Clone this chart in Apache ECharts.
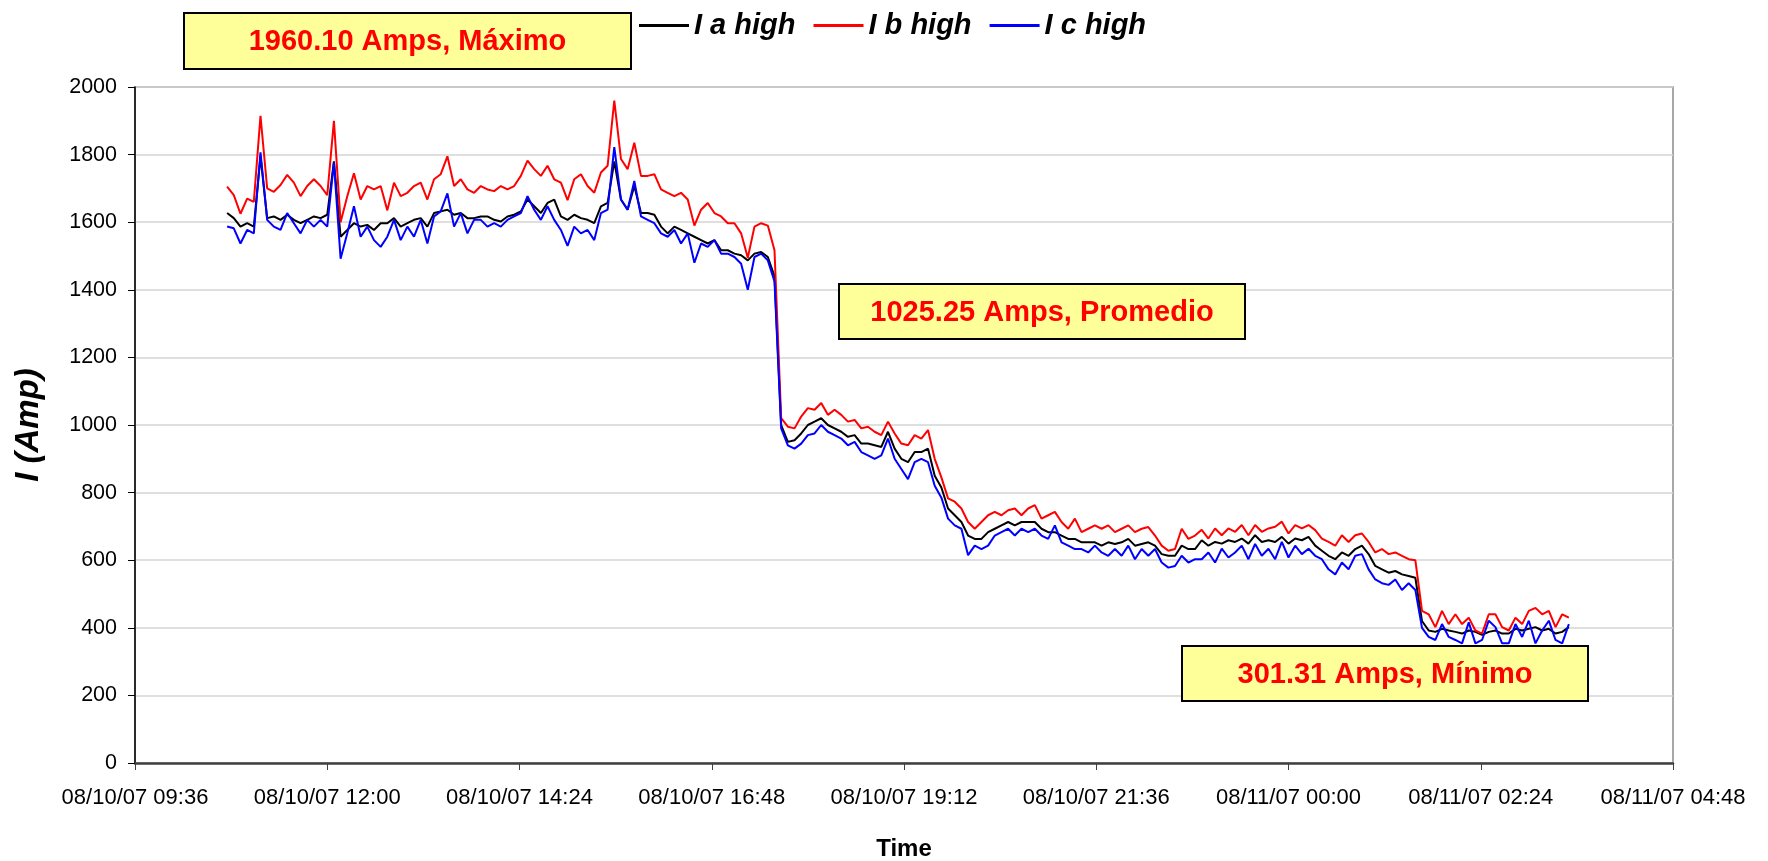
<!DOCTYPE html>
<html>
<head>
<meta charset="utf-8">
<script src="https://cdn.jsdelivr.net/npm/echarts@6/dist/echarts.min.js"></script>
<style>
html,body{margin:0;padding:0;background:#fff;}
#chart{width:1768px;height:861px;}
</style>
</head>
<body>
<div id="chart"></div>
<script>
// ---- data ----
const seriesNames = ['I a high', 'I b high', 'I c high'];
const sampleStartMinute = 645;   // 08/10/07 10:45, minutes from 08/10/07 00:00
const sampleStepMinutes = 5;
const xTickStartMinute = 576;     // 08/10/07 09:36
const xTickEndMinute = 1728;      // 08/11/07 04:48
const xTickIntervalMinutes = 144;
const yTicks = [0, 200, 400, 600, 800, 1000, 1200, 1400, 1600, 1800, 2000];

const iaHigh = [
1627,1612,1587,1597,1587,1795,1612,1617,1607,1622,
1607,1597,1607,1617,1612,1622,1780,1557,1577,1597,
1587,1592,1577,1597,1597,1612,1587,1597,1607,1612,
1587,1627,1632,1637,1622,1627,1612,1612,1617,1617,
1607,1602,1617,1622,1632,1667,1647,1627,1657,1667,
1617,1607,1622,1612,1607,1597,1647,1657,1780,1667,
1637,1707,1627,1627,1622,1587,1567,1587,1577,1567,
1557,1547,1537,1547,1517,1517,1507,1502,1487,1507,
1512,1497,1440,1000,950,955,975,1000,1010,1020,
1000,990,980,965,970,945,945,940,935,980,
930,900,890,920,920,930,850,815,753,733,
713,673,663,663,683,693,703,713,703,713,
713,713,693,683,683,673,663,663,653,653,
653,643,653,648,653,663,643,648,653,643,
618,613,613,643,633,633,659,643,654,649,
659,654,664,649,674,654,659,654,669,649,
664,659,669,643,628,613,603,623,613,633,
643,618,583,573,563,568,558,553,548,420,
392,388,397,392,388,383,392,388,379,388,
392,383,383,397,392,397,402,392,397,383,
388,402
];

const ibHigh = [
1705,1680,1625,1670,1660,1915,1700,1690,1710,1740,
1717,1677,1707,1727,1707,1680,1900,1600,1677,1745,
1667,1707,1697,1707,1635,1717,1677,1687,1707,1717,
1667,1727,1742,1795,1707,1727,1697,1687,1707,1697,
1692,1707,1697,1707,1737,1782,1757,1737,1767,1727,
1717,1665,1727,1742,1707,1687,1747,1767,1960,1787,
1757,1835,1737,1737,1742,1697,1687,1677,1687,1667,
1590,1637,1657,1627,1617,1597,1597,1567,1495,1587,
1597,1590,1517,1020,995,990,1025,1050,1045,1065,
1030,1045,1030,1010,1015,990,995,980,970,1010,
975,945,940,970,960,985,900,845,783,773,
753,713,693,713,733,743,733,748,753,733,
753,763,723,733,743,713,693,723,683,693,
703,693,703,683,693,703,683,693,698,673,
643,628,633,693,663,673,690,664,694,674,
694,684,704,674,704,684,694,699,714,679,
704,694,704,689,664,654,643,674,654,674,
679,654,623,633,618,623,613,603,600,450,
440,402,450,411,440,411,430,392,383,440,
440,402,392,430,411,450,459,440,450,402,
440,430
];

const icHigh = [
1587,1582,1537,1577,1567,1807,1607,1587,1577,1627,
1597,1567,1607,1587,1607,1587,1777,1492,1567,1647,
1557,1587,1547,1527,1557,1607,1547,1587,1557,1607,
1537,1617,1632,1685,1587,1627,1567,1607,1607,1587,
1597,1587,1607,1617,1627,1677,1637,1607,1647,1607,
1577,1530,1587,1567,1577,1547,1627,1637,1822,1667,
1637,1722,1617,1607,1597,1567,1557,1577,1537,1567,
1480,1537,1527,1547,1507,1507,1497,1477,1400,1497,
1507,1487,1425,990,940,930,945,970,975,1000,
980,970,960,940,950,920,910,900,910,960,
900,870,840,890,900,890,820,785,723,703,
693,615,643,633,643,673,683,693,673,693,
683,693,673,663,703,653,643,633,633,623,
643,623,613,633,613,643,603,633,613,633,
593,578,583,613,593,603,603,623,593,634,
608,623,643,603,648,613,634,603,654,608,
643,618,634,613,603,573,558,593,573,613,
618,573,543,532,527,543,512,532,512,400,
373,364,411,373,364,354,416,354,364,421,
402,354,354,411,373,421,354,392,421,364,
354,411
];

const annotations = [
  { text: '1960.10 Amps, Máximo' },
  { text: '1025.25 Amps, Promedio' },
  { text: '301.31 Amps, Mínimo' }
];

// ---- build ----
function pad(n) { return (n < 10 ? '0' : '') + n; }
function fmtMinute(m) {
  const day = 10 + Math.floor(m / 1440);
  const r = m % 1440;
  return '08/' + pad(day) + '/07 ' + pad(Math.floor(r / 60)) + ':' + pad(r % 60);
}
function toPairs(arr) {
  return arr.map((v, i) => [sampleStartMinute + i * sampleStepMinutes, v]);
}

const FONT = "'Liberation Sans', Arial, sans-serif";
const chart = echarts.init(document.getElementById('chart'), null, { renderer: 'canvas' });

const boxLayout = [
  { x: 184, y: 13, w: 447, h: 56 },
  { x: 839, y: 284, w: 406, h: 55 },
  { x: 1182, y: 646, w: 406, h: 55 }
];

const graphics = annotations.map((a, k) => ({
  type: 'group',
  z: 100,
  children: [
    { type: 'rect', shape: { x: boxLayout[k].x, y: boxLayout[k].y, width: boxLayout[k].w, height: boxLayout[k].h },
      style: { fill: '#FFFF99', stroke: '#000', lineWidth: 2 }, z: 100 },
    { type: 'text', x: boxLayout[k].x + boxLayout[k].w / 2, y: boxLayout[k].y + boxLayout[k].h / 2 + 1, z: 101,
      style: { text: a.text, fill: '#FF0000', font: 'bold 29px ' + FONT, textAlign: 'center', textVerticalAlign: 'middle' } }
  ]
}));

const colors = ['#000000', '#FF0000', '#0000FF'];
const dataSets = [iaHigh, ibHigh, icHigh];

chart.setOption({
  animation: false,
  backgroundColor: '#ffffff',
  grid: { left: 135, right: 95, top: 87, bottom: 98, show: true, borderColor: '#8c8c8c', borderWidth: 1.5, backgroundColor: 'transparent', containLabel: false, outerBoundsMode: 'none' },
  legend: {
    data: seriesNames,
    left: 634, top: 6,
    icon: 'rect', itemWidth: 50, itemHeight: 3, itemGap: 18,
    textStyle: { fontSize: 29, fontWeight: 'bold', fontStyle: 'italic', color: '#000', fontFamily: FONT }
  },
  xAxis: {
    type: 'value',
    min: xTickStartMinute, max: xTickEndMinute, interval: xTickIntervalMinutes,
    name: 'Time', nameLocation: 'middle', nameGap: 74,
    nameTextStyle: { fontSize: 24, fontWeight: 'bold', color: '#000', fontFamily: FONT },
    axisLine: { show: true, lineStyle: { color: '#404040', width: 2.5 } },
    axisTick: { show: true, length: 7, lineStyle: { color: '#404040', width: 1 } },
    axisLabel: { formatter: fmtMinute, fontSize: 22, color: '#000', margin: 24, fontFamily: FONT, showMaxLabel: true, showMinLabel: true },
    splitLine: { show: false }
  },
  yAxis: {
    type: 'value',
    min: yTicks[0], max: yTicks[yTicks.length - 1], interval: 200,
    name: 'I (Amp)', nameLocation: 'middle', nameGap: 90, nameRotate: 90,
    nameTextStyle: { fontSize: 33, fontWeight: 'bold', fontStyle: 'italic', color: '#000', fontFamily: FONT },
    axisLine: { show: true, lineStyle: { color: '#000', width: 1.5 } },
    axisTick: { show: true, length: 7, lineStyle: { color: '#000', width: 1 } },
    axisLabel: { fontSize: 21.5, color: '#000', margin: 18, fontFamily: FONT, formatter: v => String(v) },
    splitLine: { show: true, lineStyle: { color: '#d4d4d4', width: 1.5 } }
  },
  series: seriesNames.map((n, k) => ({
    name: n, type: 'line', data: toPairs(dataSets[k]),
    showSymbol: false, symbol: 'none', sampling: null,
    color: colors[k],
    lineStyle: { color: colors[k], width: 2 },
    z: 2 + k
  })),
  graphic: graphics
});
</script>
</body>
</html>
